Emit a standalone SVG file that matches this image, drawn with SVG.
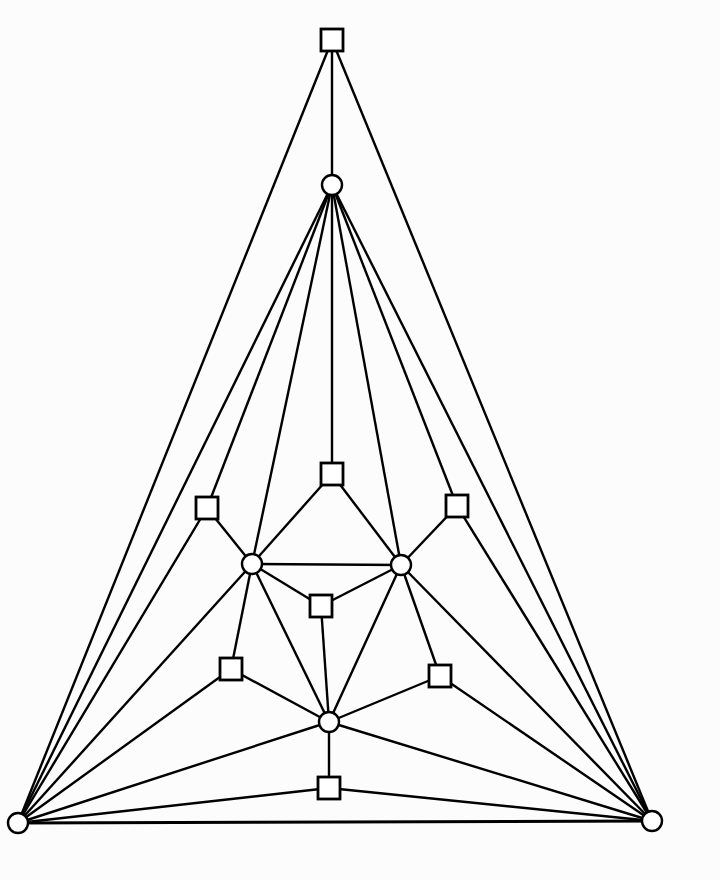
<svg xmlns="http://www.w3.org/2000/svg" width="720" height="880" viewBox="0 0 720 880">
<style>
.e{stroke:#000;stroke-width:2.4;fill:none}
.sq{fill:#fff;stroke:#000;stroke-width:2.8}
.ci{fill:#fff;stroke:#000;stroke-width:2.4}
</style>
<rect width="720" height="880" fill="#fcfcfc"/>
<g id="edges" class="e">
<line x1="332" y1="40" x2="332" y2="185"/>
<line x1="332" y1="40" x2="18" y2="823"/>
<line x1="332" y1="40" x2="652" y2="821"/>
<line x1="332" y1="185" x2="332" y2="474"/>
<line x1="332" y1="185" x2="207" y2="508"/>
<line x1="332" y1="185" x2="457" y2="506"/>
<line x1="332" y1="185" x2="252" y2="564"/>
<line x1="332" y1="185" x2="401" y2="565"/>
<line x1="332" y1="185" x2="18" y2="823"/>
<line x1="332" y1="185" x2="652" y2="821"/>
<line x1="332" y1="474" x2="252" y2="564"/>
<line x1="332" y1="474" x2="401" y2="565"/>
<line x1="207" y1="508" x2="252" y2="564"/>
<line x1="207" y1="508" x2="18" y2="823"/>
<line x1="457" y1="506" x2="401" y2="565"/>
<line x1="457" y1="506" x2="652" y2="821"/>
<line x1="252" y1="564" x2="401" y2="565"/>
<line x1="252" y1="564" x2="321" y2="606"/>
<line x1="401" y1="565" x2="321" y2="606"/>
<line x1="321" y1="606" x2="329" y2="722"/>
<line x1="252" y1="564" x2="329" y2="722"/>
<line x1="401" y1="565" x2="329" y2="722"/>
<line x1="252" y1="564" x2="231" y2="669"/>
<line x1="252" y1="564" x2="18" y2="823"/>
<line x1="401" y1="565" x2="440" y2="676"/>
<line x1="401" y1="565" x2="652" y2="821"/>
<line x1="231" y1="669" x2="18" y2="823"/>
<line x1="231" y1="669" x2="329" y2="722"/>
<line x1="440" y1="676" x2="652" y2="821"/>
<line x1="440" y1="676" x2="329" y2="722"/>
<line x1="329" y1="722" x2="18" y2="823"/>
<line x1="329" y1="722" x2="652" y2="821"/>
<line x1="329" y1="722" x2="329" y2="788"/>
<line x1="329" y1="788" x2="18" y2="823"/>
<line x1="329" y1="788" x2="652" y2="821"/>
<line x1="18" y1="823" x2="652" y2="821" stroke-width="3"/>
</g>
<g id="n_top"><rect class="sq" x="321" y="29" width="22" height="22"/></g>
<g id="n_ctop"><circle class="ci" cx="332" cy="185" r="10"/></g>
<g id="n_smid"><rect class="sq" x="321" y="463" width="22" height="22"/></g>
<g id="n_sl"><rect class="sq" x="196" y="497" width="22" height="22"/></g>
<g id="n_sr"><rect class="sq" x="446" y="495" width="22" height="22"/></g>
<g id="n_cl"><circle class="ci" cx="252" cy="564" r="10"/></g>
<g id="n_cr"><circle class="ci" cx="401" cy="565" r="10"/></g>
<g id="n_sc"><rect class="sq" x="310" y="595" width="22" height="22"/></g>
<g id="n_sll"><rect class="sq" x="220" y="658" width="22" height="22"/></g>
<g id="n_srr"><rect class="sq" x="429" y="665" width="22" height="22"/></g>
<g id="n_cbot"><circle class="ci" cx="329" cy="722" r="10"/></g>
<g id="n_sbot"><rect class="sq" x="318" y="777" width="22" height="22"/></g>
<g id="n_cbl"><circle class="ci" cx="18" cy="823" r="10"/></g>
<g id="n_cbr"><circle class="ci" cx="652" cy="821" r="10"/></g>
</svg>
